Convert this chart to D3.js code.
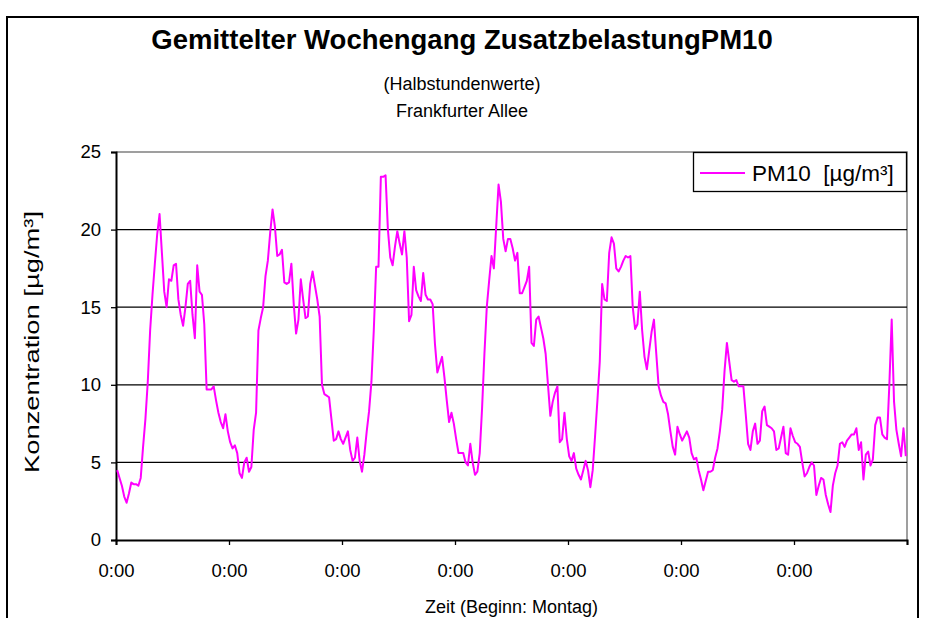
<!DOCTYPE html>
<html>
<head>
<meta charset="utf-8">
<script src="https://cdn.jsdelivr.net/npm/d3@7/dist/d3.min.js"></script>
<style>
  html, body { margin: 0; padding: 0; background: #fff; }
  svg { display: block; font-family: Arial, "Liberation Sans", sans-serif; }
</style>
</head>
<body>
<svg id="chart" width="926" height="618"></svg>
<script>
// Mean weekly cycle of the PM10 additional load, half-hourly values (48 per day)
const montag     = [4.5, 4.0, 3.5, 2.8, 2.4, 3.0, 3.7, 3.6, 3.6, 3.5, 4.0, 6.0, 7.8, 10.2, 13.5, 15.8, 17.8, 19.7, 21.0, 18.5, 16.0, 15.0, 16.8, 16.7, 17.7, 17.8, 15.5, 14.5, 13.8, 15.0, 16.5, 16.7, 14.5, 13.0, 17.7, 16.0, 15.8, 13.9, 9.7, 9.7, 9.7, 9.9, 9.0, 8.2, 7.6, 7.2, 8.1, 7.0];
const dienstag   = [6.3, 5.9, 6.1, 5.6, 4.3, 4.0, 5.0, 5.3, 4.4, 4.7, 7.1, 8.2, 13.5, 14.3, 15.0, 17.0, 18.0, 19.8, 21.3, 20.2, 18.3, 18.4, 18.7, 16.6, 16.5, 16.6, 17.8, 15.2, 13.3, 14.2, 16.8, 15.5, 14.3, 14.4, 16.5, 17.3, 16.4, 15.5, 14.4, 10.0, 9.4, 9.3, 9.2, 7.8, 6.4, 6.5, 7.0, 6.5];
const mittwoch   = [6.2, 6.6, 7.0, 5.8, 5.1, 5.3, 6.6, 5.1, 4.4, 5.5, 7.0, 8.3, 10.2, 13.5, 17.6, 17.6, 23.4, 23.4, 23.5, 20.0, 18.2, 17.7, 18.9, 19.9, 19.1, 18.4, 19.9, 18.2, 14.1, 14.5, 17.6, 16.1, 15.7, 15.4, 17.2, 15.8, 15.5, 15.5, 15.2, 12.6, 10.8, 11.3, 11.8, 10.5, 9.0, 7.6, 8.2, 7.5];
const donnerstag = [6.5, 5.6, 5.6, 5.6, 5.0, 4.8, 6.2, 5.0, 4.2, 4.4, 5.6, 8.5, 12.0, 15.0, 16.7, 18.3, 17.5, 20.2, 22.9, 21.8, 19.4, 18.6, 19.4, 19.4, 18.8, 18.0, 18.5, 15.9, 15.9, 16.3, 16.7, 17.6, 12.7, 12.5, 14.2, 14.4, 13.7, 13.0, 12.0, 10.0, 8.0, 8.9, 9.5, 9.9, 6.3, 6.5, 8.2, 6.5];
const freitag    = [5.4, 5.1, 5.6, 4.6, 4.2, 3.9, 4.5, 5.1, 4.5, 3.4, 4.5, 6.7, 9.0, 11.5, 16.5, 15.5, 15.4, 18.5, 19.5, 19.1, 17.5, 17.3, 17.6, 18.0, 18.3, 18.2, 18.3, 15.0, 13.6, 13.9, 16.0, 13.5, 11.8, 11.0, 12.2, 13.4, 14.2, 12.0, 9.9, 9.3, 8.9, 8.8, 8.1, 7.0, 6.0, 5.5, 7.3, 6.8];
const samstag    = [6.4, 6.7, 7.0, 6.6, 5.6, 5.2, 5.3, 4.5, 3.9, 3.2, 3.8, 4.4, 4.4, 4.5, 5.3, 5.9, 7.0, 8.4, 10.9, 12.7, 11.5, 10.3, 10.2, 10.3, 9.9, 9.9, 9.9, 8.1, 6.2, 5.8, 7.0, 7.5, 6.2, 6.4, 8.3, 8.6, 7.4, 7.3, 7.2, 7.0, 5.8, 5.9, 6.6, 7.3, 5.6, 5.5, 7.2, 6.7];
const sonntag    = [6.3, 6.2, 6.0, 5.0, 4.1, 4.3, 4.7, 5.0, 4.8, 2.9, 3.5, 4.0, 3.9, 2.9, 2.3, 1.8, 3.5, 4.3, 4.8, 6.2, 6.3, 6.0, 6.4, 6.6, 6.8, 6.8, 7.2, 5.8, 6.3, 3.9, 5.5, 5.7, 4.8, 5.2, 7.4, 7.9, 7.9, 6.8, 6.6, 6.5, 10.0, 14.2, 8.9, 7.1, 6.2, 5.4, 7.2, 5.4];

const dayTickLabels = ["0:00", "0:00", "0:00", "0:00", "0:00", "0:00", "0:00", ""];
const yTicks = [0, 5, 10, 15, 20, 25];
const seriesName = "PM10  [µg/m³]";

const values = [].concat(montag, dienstag, mittwoch, donnerstag, freitag, samstag, sonntag);
const perDay = 48;
const nSlots = values.length;

const FONT = "Arial, 'Liberation Sans', sans-serif";
const svg = d3.select("#chart");
const plot = { left: 116, right: 907, top: 152, bottom: 540 };

// outer frame
svg.append("rect")
  .attr("x", 7).attr("y", 17).attr("width", 911).attr("height", 640)
  .attr("fill", "none").attr("stroke", "#000").attr("stroke-width", 2);

// titles
svg.append("text").attr("x", 462).attr("y", 49).attr("text-anchor", "middle")
  .attr("font-size", 27.5).attr("font-weight", "bold")
  .text("Gemittelter Wochengang ZusatzbelastungPM10");
svg.append("text").attr("x", 462).attr("y", 90).attr("text-anchor", "middle")
  .attr("font-size", 18).text("(Halbstundenwerte)");
svg.append("text").attr("x", 462).attr("y", 117).attr("text-anchor", "middle")
  .attr("font-size", 18).text("Frankfurter Allee");

const x = d3.scaleLinear().domain([0, nSlots]).range([plot.left, plot.right]);
const y = d3.scaleLinear().domain([0, 25]).range([plot.bottom, plot.top]);

// plot area border (grey top and right edges)
svg.append("path")
  .attr("d", `M${plot.left},${plot.top}H${plot.right}V${plot.bottom}`)
  .attr("fill", "none").attr("stroke", "#808080").attr("stroke-width", 1.5);

// horizontal gridlines
svg.append("g").selectAll("line")
  .data(yTicks.filter(v => v > 0 && v < 25))
  .join("line")
  .attr("x1", plot.left).attr("x2", plot.right)
  .attr("y1", d => y(d)).attr("y2", d => y(d))
  .attr("stroke", "#000").attr("stroke-width", 1.3);

// y axis
const yAxis = svg.append("g")
  .attr("transform", `translate(${plot.left},0)`)
  .call(d3.axisLeft(y).tickValues(yTicks).tickSize(5).tickPadding(10).tickFormat(d3.format("d")));
yAxis.select(".domain").attr("stroke", "#000").attr("stroke-width", 2);
yAxis.selectAll(".tick line").attr("stroke", "#000").attr("stroke-width", 1.3);
yAxis.selectAll(".tick text").attr("font-size", 18.5).attr("fill", "#000").attr("font-family", FONT);

// x axis: one tick at the start of each day
const dayTicks = d3.range(0, nSlots + 1, perDay);
const xAxis = svg.append("g")
  .attr("transform", `translate(0,${plot.bottom})`)
  .call(d3.axisBottom(x).tickValues(dayTicks).tickSize(5).tickPadding(19)
    .tickFormat((d, i) => dayTickLabels[i]));
xAxis.select(".domain").attr("stroke", "#000").attr("stroke-width", 2);
xAxis.selectAll(".tick line").attr("stroke", "#000").attr("stroke-width", 1.3);
xAxis.selectAll(".tick text").attr("font-size", 18.5).attr("fill", "#000").attr("font-family", FONT);

// axis titles
svg.append("text").attr("x", (plot.left + plot.right) / 2).attr("y", 613)
  .attr("text-anchor", "middle").attr("font-size", 18).text("Zeit (Beginn: Montag)");
svg.append("text")
  .attr("transform", `translate(39,${(plot.top + plot.bottom) / 2 - 4}) rotate(-90)`)
  .attr("text-anchor", "middle").attr("font-size", 20)
  .attr("textLength", 262).attr("lengthAdjust", "spacingAndGlyphs")
  .text("Konzentration [µg/m³]");

// the series line, points centred in their half-hour slots
const line = d3.line().x((d, i) => x(i + 0.5)).y(d => y(d));
svg.append("path").datum(values)
  .attr("d", line)
  .attr("fill", "none").attr("stroke", "#FF00FF").attr("stroke-width", 2)
  .attr("stroke-linejoin", "round");

// legend
const lg = svg.append("g");
lg.append("rect").attr("x", 693.5).attr("y", 152.5).attr("width", 213).attr("height", 39)
  .attr("fill", "#fff").attr("stroke", "#000").attr("stroke-width", 1.3);
lg.append("line").attr("x1", 700).attr("x2", 745).attr("y1", 173).attr("y2", 173)
  .attr("stroke", "#FF00FF").attr("stroke-width", 2);
lg.append("text").attr("x", 752).attr("y", 181).attr("font-size", 22.5)
  .style("white-space", "pre").text(seriesName);
</script>
</body>
</html>
